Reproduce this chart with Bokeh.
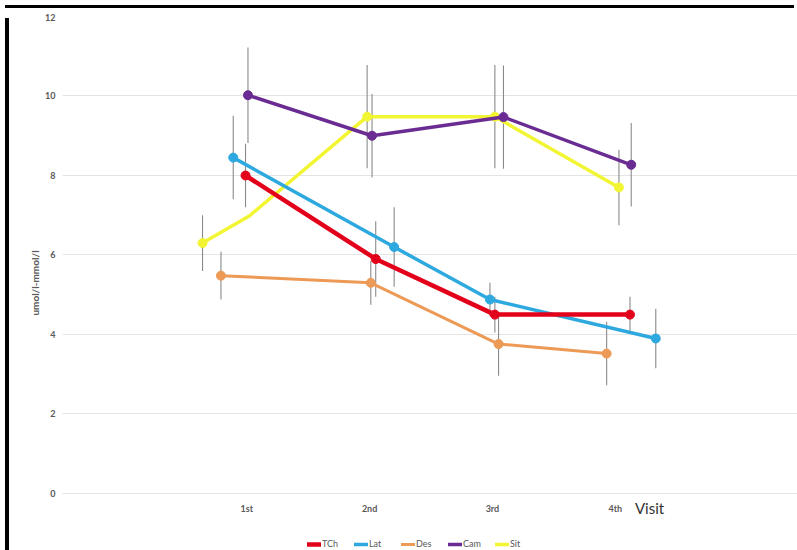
from bokeh.plotting import figure
from bokeh.models import Range1d, FixedTicker, Legend, LegendItem, Label, ColumnDataSource, Div
from bokeh.layouts import column, row
from bokeh.embed import file_html
from bokeh.resources import INLINE

# ---- data ----
visit_labels = ["1st", "2nd", "3rd", "4th"]
visit_ticks = [1, 2, 3, 4]
y_ticks = [0, 2, 4, 6, 8, 10, 12]

tch_x = [0.99, 2.05, 3.02, 4.12]
tch_y = [8.0, 5.9, 4.5, 4.5]
tch_err = [0.8, 0.95, 0.45, 0.45]

lat_x = [0.89, 2.20, 2.98, 4.33]
lat_y = [8.45, 6.2, 4.88, 3.9]
lat_err = [1.05, 1.0, 0.42, 0.75]

des_x = [0.79, 2.01, 3.05, 3.93]
des_y = [5.48, 5.3, 3.76, 3.52]
des_err = [0.6, 0.55, 0.8, 0.8]

cam_x = [1.01, 2.02, 3.09, 4.13]
cam_y = [10.02, 9.0, 9.47, 8.27]
cam_err = [1.2, 1.05, 1.3, 1.05]

sit_x = [0.64, 1.98, 3.02, 4.03]
sit_y = [6.3, 9.48, 9.48, 7.7]
sit_err = [0.7, 1.3, 1.3, 0.95]
# the Sit line bends once between its first two points
sit_line_x = [0.64, 1.02, 1.98, 3.02, 4.03]
sit_line_y = [6.3, 6.98, 9.48, 9.48, 7.7]

names = ["TCh", "Lat", "Des", "Cam", "Sit"]
colors = ["#E3001B", "#2EA9DF", "#EC9A56", "#6A2C93", "#F2F532"]
widths = [4.5, 3.5, 3, 3.5, 3.5]

FONT = "Lato"

# frame runs to the bottom of the page so the tick labels, legend and "Visit" sit inside it
p = figure(frame_width=737, frame_height=533, x_range=Range1d(-0.5, 5.5), y_range=Range1d(-1.409, 12),
           output_backend="svg", toolbar_location=None,
           min_border_left=48, min_border_right=0, min_border_top=3, min_border_bottom=0)
p.outline_line_color = None
p.background_fill_color = "white"
p.border_fill_color = "white"

p.xgrid.grid_line_color = None
p.ygrid.grid_line_color = "#e4e4e4"
p.ygrid.grid_line_width = 1.2

p.yaxis.ticker = FixedTicker(ticks=y_ticks)
p.xaxis.ticker = FixedTicker(ticks=visit_ticks)
p.xaxis.major_label_overrides = {t: l for t, l in zip(visit_ticks, visit_labels)}
p.xaxis.fixed_location = 0
for ax in (p.xaxis, p.yaxis):
    ax.axis_line_color = None
    ax.major_tick_line_color = None
    ax.minor_tick_line_color = None
    ax.major_tick_out = 0
    ax.major_tick_in = 0
    ax.minor_tick_out = 0
    ax.minor_tick_in = 0
    ax.major_label_text_font = FONT
    ax.major_label_text_font_style = "bold"
    ax.major_label_text_font_size = "9px"
    ax.major_label_text_color = "#595959"
p.yaxis.major_label_standoff = 7
p.xaxis.major_label_standoff = 10
p.yaxis.axis_label = "umol/l-mmol/l"
p.yaxis.axis_label_text_font = FONT
p.yaxis.axis_label_text_font_size = "10px"
p.yaxis.axis_label_text_font_style = "bold"
p.yaxis.axis_label_text_color = "#595959"
p.yaxis.axis_label_standoff = 1

series = [
    (tch_x, tch_y, tch_err),
    (lat_x, lat_y, lat_err),
    (des_x, des_y, des_err),
    (cam_x, cam_y, cam_err),
    (sit_x, sit_y, sit_err),
]

# error bars
for xs, ys, es in series:
    src = ColumnDataSource(dict(x=xs, lo=[y - e for y, e in zip(ys, es)],
                                hi=[y + e for y, e in zip(ys, es)]))
    p.segment(x0="x", y0="lo", x1="x", y1="hi", source=src,
              line_color="#8a8a8a", line_width=1.1)

renderers = {}
draw_order = [4, 2, 1, 0, 3]
for i in draw_order:
    xs, ys, es = series[i]
    if names[i] == "Sit":
        lx, ly = sit_line_x, sit_line_y
    else:
        lx, ly = xs, ys
    r = p.line(lx, ly, line_color=colors[i], line_width=widths[i], line_join="round", line_cap="round")
    p.scatter(xs, ys, size=9, fill_color=colors[i], line_color=colors[i])
    renderers[names[i]] = r

legend = Legend(items=[LegendItem(label=n, renderers=[renderers[n]]) for n in names],
                orientation="horizontal", location=(245, 0),
                label_text_font=FONT, label_text_font_size="9px", label_text_color="#595959",
                glyph_width=14, glyph_height=6, label_standoff=1, spacing=12,
                border_line_color=None, background_fill_alpha=0,
                padding=2, margin=0, label_height=10)
p.add_layout(legend)

p.add_layout(Label(x=4.16, y=-0.36, text="Visit", text_font=FONT, text_font_size="15px",
                   text_color="#333333", text_baseline="middle"))

top_bar = Div(text="", width=789, height=3, styles={"background-color": "black"})
left_bar = Div(text="", width=4, height=536, styles={"background-color": "black"})
layout = column(top_bar, row(left_bar, p, spacing=0), spacing=0)

open("out.html", "w").write(file_html(layout, INLINE))
